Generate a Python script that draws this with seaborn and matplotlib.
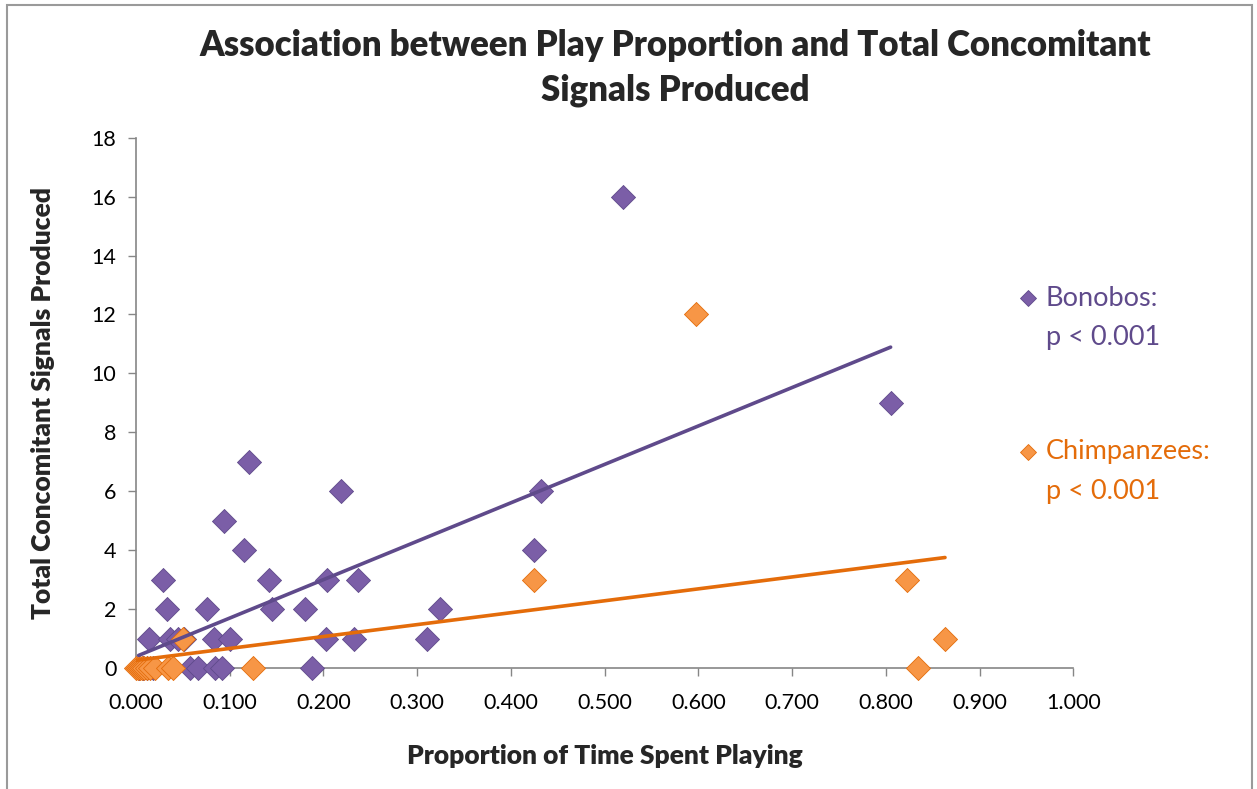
import matplotlib
matplotlib.use("Agg")
import pandas as pd
import seaborn as sns
import matplotlib.pyplot as plt
from matplotlib.lines import Line2D
from matplotlib.patches import Rectangle

# values
bonobo_prop = [0.520, 0.805, 0.432, 0.425, 0.219, 0.121, 0.094, 0.115, 0.142, 0.145,
               0.029, 0.033, 0.076, 0.180, 0.204, 0.237, 0.324,
               0.311, 0.203, 0.233, 0.014, 0.037, 0.045, 0.051, 0.083, 0.100,
               0.058, 0.066, 0.085, 0.092, 0.188, 0.003, 0.008, 0.012, 0.018]
bonobo_signals = [16, 9, 6, 4, 6, 7, 5, 4, 3, 2,
                  3, 2, 2, 2, 3, 3, 2,
                  1, 1, 1, 1, 1, 1, 1, 1, 1,
                  0, 0, 0, 0, 0, 0, 0, 0, 0]

chimp_prop = [0.597, 0.425, 0.822, 0.863, 0.834, 0.125, 0.050,
              0.000, 0.002, 0.004, 0.007, 0.009, 0.012, 0.015, 0.020, 0.034, 0.040]
chimp_signals = [12, 3, 3, 1, 0, 0, 1,
                 0, 0, 0, 0, 0, 0, 0, 0, 0, 0]

x_ticks = [0.0, 0.1, 0.2, 0.3, 0.4, 0.5, 0.6, 0.7, 0.8, 0.9, 1.0]
y_ticks = [0, 2, 4, 6, 8, 10, 12, 14, 16, 18]

df = pd.concat([
    pd.DataFrame({"prop": bonobo_prop, "signals": bonobo_signals, "species": "Bonobos"}),
    pd.DataFrame({"prop": chimp_prop, "signals": chimp_signals, "species": "Chimpanzees"}),
])

sns.set_theme(style="white")
plt.rcParams["font.family"] = ["Lato", "DejaVu Sans"]

purple_pt, purple_ln = "#7B5EA7", "#5F4A8B"
orange_pt, orange_ln = "#F79646", "#E46C0A"
gray = "#868686"

fig = plt.figure(figsize=(12.57, 7.89), dpi=100)
ax = fig.add_axes([0.108, 0.1534, 0.746, 0.672])

for sp, pt, ln in [("Bonobos", purple_pt, purple_ln), ("Chimpanzees", orange_pt, orange_ln)]:
    sub = df[df["species"] == sp]
    sns.scatterplot(data=sub, x="prop", y="signals", marker="D", s=150,
                    color=pt, edgecolor=ln, linewidth=0.6, ax=ax, zorder=3)
for sp, ln in [("Bonobos", purple_ln), ("Chimpanzees", orange_ln)]:
    sub = df[df["species"] == sp]
    sns.regplot(data=sub, x="prop", y="signals", scatter=False, ci=None,
                truncate=True, line_kws={"color": ln, "linewidth": 2.6, "zorder": 4}, ax=ax)

ax.set_xlim(0, 1.0)
ax.set_ylim(0, 18)
ax.set_xticks(x_ticks)
ax.set_xticklabels([f"{t:.3f}" for t in x_ticks])
ax.set_yticks(y_ticks)
ax.set_yticklabels([str(t) for t in y_ticks])
ax.tick_params(axis="both", which="major", direction="out", length=6, width=1,
               color=gray, labelsize=15.5, labelcolor="black",
               bottom=True, left=True)
ax.tick_params(axis="x", pad=12)
ax.tick_params(axis="y", pad=8)
ax.set_xlabel("Proportion of Time Spent Playing", fontsize=19, fontweight="heavy", labelpad=22)
ax.set_ylabel("Total Concomitant Signals Produced", fontsize=19, fontweight="heavy", labelpad=26)
sns.despine(ax=ax)
for s in ["left", "bottom"]:
    ax.spines[s].set_color(gray)
    ax.spines[s].set_linewidth(1.2)
for c in ax.collections:
    c.set_clip_on(False)

fig.text(0.537, 0.942, "Association between Play Proportion and Total Concomitant",
         ha="center", va="center", fontsize=25, fontweight="heavy")
fig.text(0.537, 0.885, "Signals Produced",
         ha="center", va="center", fontsize=25, fontweight="heavy")

# legend drawn as text entries
for label, y0, pt, ln in [("Bonobos:", 298, purple_pt, purple_ln),
                          ("Chimpanzees:", 452, orange_pt, orange_ln)]:
    fig.add_artist(Line2D([1028 / 1257], [1 - y0 / 789], marker="D", markersize=8.5,
                          color=pt, markeredgecolor=ln, markeredgewidth=0.6,
                          transform=fig.transFigure))
    fig.text(1046 / 1257, 1 - y0 / 789, label, ha="left", va="center", fontsize=19.5, color=ln)
    fig.text(1046 / 1257, 1 - (y0 + 40) / 789, "p < 0.001", ha="left", va="center",
             fontsize=19.5, color=ln)

fig.add_artist(Rectangle((7 / 1257, -0.05), 1245 / 1257, 1.05 - 5 / 789,
                         transform=fig.transFigure, fill=False, edgecolor="#9a9a9a",
                         linewidth=1.5))

fig.savefig("out.png", dpi=100)
